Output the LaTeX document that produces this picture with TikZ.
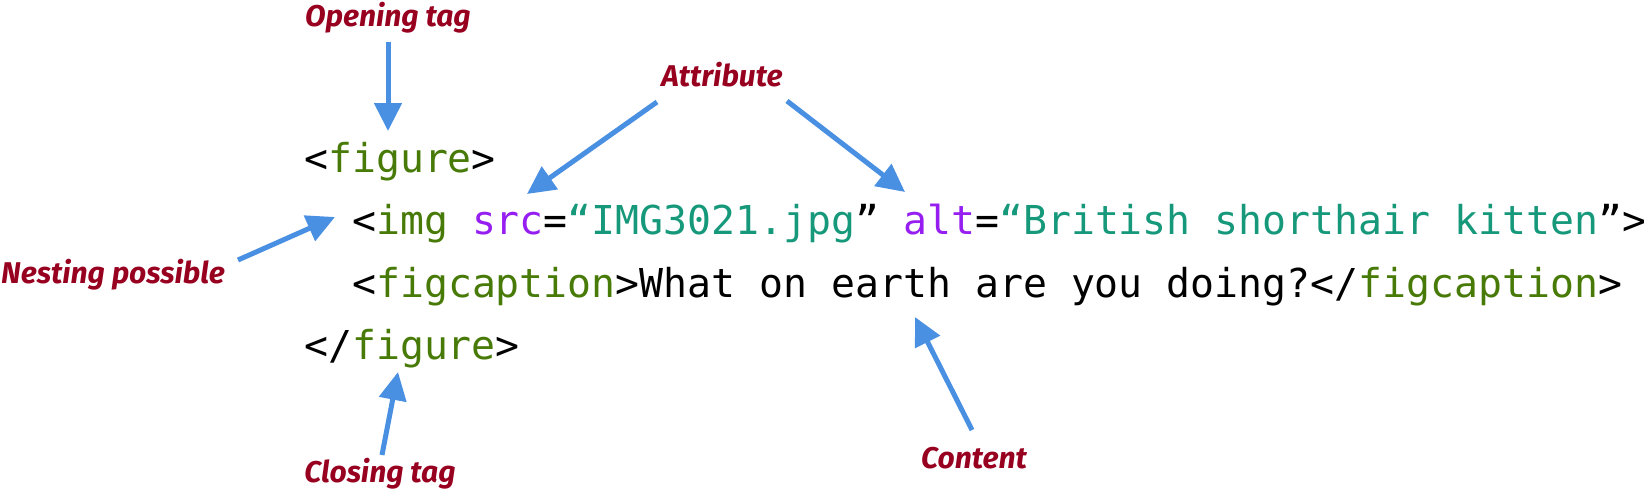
\documentclass[tikz,border=0pt]{standalone}
\usepackage{fontspec}
\setmainfont{Fira Sans}
\newfontfamily\codefont{DejaVu Sans Mono}
\usetikzlibrary{arrows.meta}
\definecolor{tagc}{RGB}{72,122,8}
\definecolor{attrc}{RGB}{150,30,240}
\definecolor{strc}{RGB}{22,152,122}
\definecolor{lblc}{RGB}{152,0,32}
\definecolor{arrc}{RGB}{74,144,226}
\newcommand{\tg}[1]{\textcolor{tagc}{#1}}
\newcommand{\at}[1]{\textcolor{attrc}{#1}}
\newcommand{\st}[1]{\textcolor{strc}{#1}}
\begin{document}
\begin{tikzpicture}[x=1pt,y=-1pt,
  code/.style={anchor=base west,inner sep=0pt,font=\codefont\fontsize{39.8}{47}\selectfont},
  lbl/.style={anchor=base,inner sep=0pt,text=lblc,font=\fontsize{30}{36}\selectfont\bfseries\itshape},
  arr/.style={draw=arrc,line width=5pt,-{Triangle[width=27pt,length=28pt]}}]
\useasboundingbox (0,0) rectangle (1644,495);
% code lines
\node[code] (l1) at (304,172) {<\tg{figure}>};
\node[code] (l2) at (352,234.5) {<\tg{img} \at{src}=\st{“IMG3021.jpg}” \at{alt}=\st{“British shorthair kitten}”>};
\node[code] (l3) at (352,297) {<\tg{figcaption}>What on earth are you doing?</\tg{figcaption}>};
\node[code] (l4) at (304,359.5) {</\tg{figure}>};
% labels
\node[lbl] (open) at (388,27) {Opening tag};
\node[lbl] (attr) at (722,87) {Attribute};
\node[lbl] (nest) at (113,283) {Nesting possible};
\node[lbl] (close) at (380,482) {Closing tag};
\node[lbl] (cont) at (974,468) {Content};
% arrow ends
\coordinate (openT) at (388,42);   \coordinate (openH) at (388,131);
\coordinate (attrLT) at (657,102); \coordinate (attrLH) at (527,194);
\coordinate (attrRT) at (787,101); \coordinate (attrRH) at (905,192);
\coordinate (nestT) at (238,260);  \coordinate (nestH) at (335,217);
\coordinate (closeT) at (382,455); \coordinate (closeH) at (398,372);
\coordinate (contT) at (972,430);  \coordinate (contH) at (915,317);
\draw[arr] (openT) -- (openH);
\draw[arr] (attrLT) -- (attrLH);
\draw[arr] (attrRT) -- (attrRH);
\draw[arr] (nestT) -- (nestH);
\draw[arr] (closeT) -- (closeH);
\draw[arr] (contT) -- (contH);
\end{tikzpicture}
\end{document}
